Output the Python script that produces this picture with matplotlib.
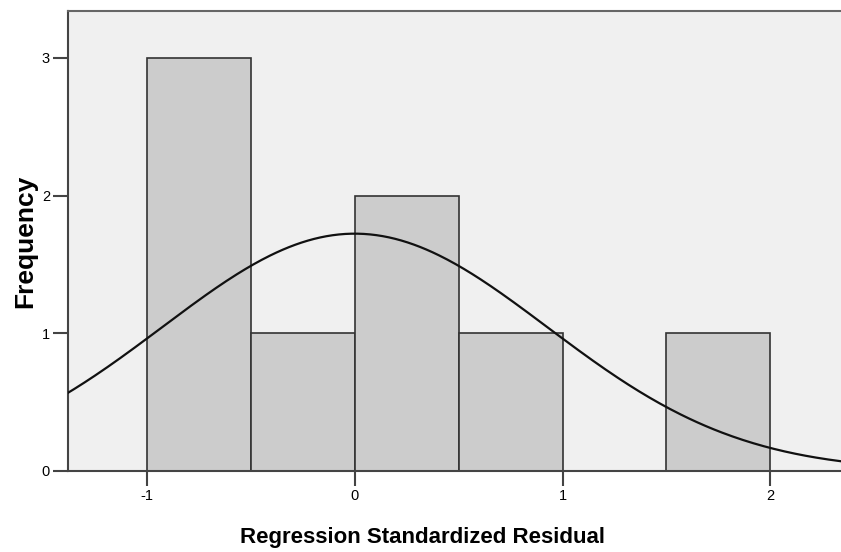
import numpy as np
import matplotlib
matplotlib.use("Agg")
import matplotlib.pyplot as plt

plt.rcParams['font.family'] = ['Liberation Sans', 'DejaVu Sans']

bin_edges = [-1.0, -0.5, 0.0, 0.5, 1.0, 1.5, 2.0]
counts = [3, 1, 2, 1, 0, 1]
n_obs = 8
resid_mean = 0.0
resid_sd = 0.926
x_ticks = [-1, 0, 1, 2]
y_ticks = [0, 1, 2, 3]

fig = plt.figure(figsize=(8.41, 5.52), dpi=100)
ax = fig.add_axes([68/841, 81/552, 1 - 68/841, (471 - 11)/552])
ax.set_facecolor('#F0F0F0')

lefts = np.array(bin_edges[:-1])
widths = np.diff(bin_edges)
ax.bar(lefts, counts, width=widths, align='edge', color='#CCCCCC',
       edgecolor='#333333', linewidth=1.2, zorder=2)

bw = widths[0]
xs = np.linspace(-1.5, 2.5, 400)
ys = n_obs * bw * np.exp(-0.5 * ((xs - resid_mean) / resid_sd) ** 2) / (resid_sd * np.sqrt(2 * np.pi))
ax.plot(xs, ys, color='#111111', linewidth=1.6, zorder=3)

ax.set_xlim(-1.38, 2.34)
ax.set_ylim(0, 3.34)
ax.set_xticks(x_ticks)
ax.set_yticks(y_ticks)
ax.set_xticklabels([str(t) for t in x_ticks], fontsize=10.5)
ax.set_yticklabels([str(t) for t in y_ticks], fontsize=10.5)
ax.tick_params(axis='both', direction='out', length=11, width=1.5, color='#444444', pad=2)

for s in ['left', 'bottom', 'top']:
    ax.spines[s].set_color('#444444')
    ax.spines[s].set_linewidth(1.5)
ax.spines['top'].set_color('#666666')
ax.spines['right'].set_visible(False)

ax.set_xlabel('Regression Standardized Residual', fontsize=16, fontweight='bold')
ax.set_ylabel('Frequency', fontsize=19, fontweight='bold')
ax.xaxis.set_label_coords(0.458, -0.1217)
ax.yaxis.set_label_coords(-0.040, 0.5)

fig.savefig('out.png', dpi=100, facecolor='white')
